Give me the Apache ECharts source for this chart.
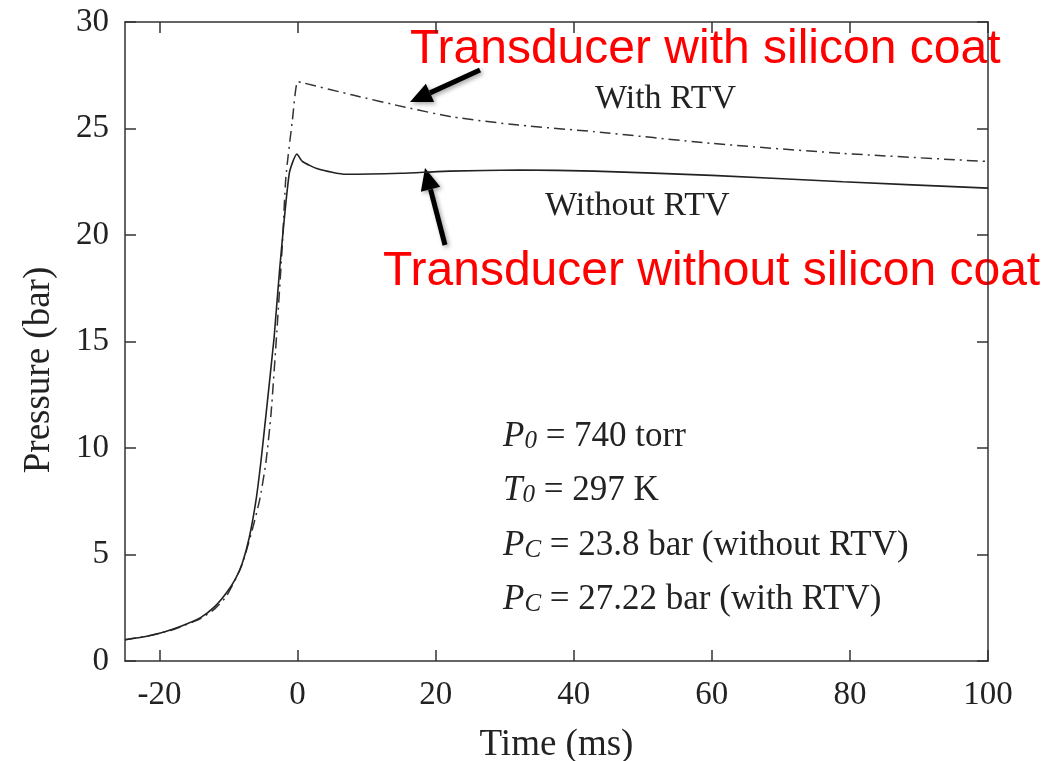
<!DOCTYPE html>
<html>
<head>
<meta charset="utf-8">
<script src="https://cdn.jsdelivr.net/npm/echarts@6/dist/echarts.min.js"></script>
<style>
  html, body { margin: 0; padding: 0; background: #fff; }
  #chart { width: 1055px; height: 761px; }
</style>
</head>
<body>
<div id="chart"></div>
<script>
// solid curve, transducer without RTV (silicon coat)
const timeWithout = [-25, -22, -20, -18, -16, -14, -12, -10.3, -9, -8, -7, -6, -5.3, -4.6, -3.4, -2.6, -1.2, -0.1, 0.7, 3, 7, 15, 22, 32, 43, 60, 79, 100];
const pressWithout = [1.0, 1.15, 1.3, 1.5, 1.75, 2.05, 2.55, 3.2, 3.85, 4.6, 5.8, 7.6, 9.4, 11.5, 15.2, 18.4, 22.9, 23.8, 23.45, 23.1, 22.85, 22.9, 23.0, 23.05, 23.0, 22.8, 22.5, 22.2];

// dash-dot curve, transducer with RTV
const timeWith = [-25, -22, -20, -18, -16, -14, -12, -10.3, -8.2, -6.7, -5.5, -4.6, -3.85, -3, -2.2, -1.7, -0.75, 0, 0.7, 8, 15.6, 22.3, 32, 43, 60, 79, 100];
const pressWith = [1.0, 1.15, 1.3, 1.48, 1.72, 2.0, 2.45, 3.05, 4.4, 6.0, 7.56, 9.3, 11.6, 15.5, 19.6, 22.7, 25.4, 27.2, 27.15, 26.57, 26.0, 25.55, 25.16, 24.85, 24.3, 23.83, 23.45];

const xTicks = [-20, 0, 20, 40, 60, 80, 100];

const serif = "Liberation Serif";

function pairs(xs, ys) {
  return xs.map((x, i) => [x, ys[i]]);
}

function arrow(x1, y1, x2, y2) {
  // black arrow with head at (x2, y2)
  const ang = Math.atan2(y2 - y1, x2 - x1);
  const len = 22, half = 10;
  const bx = x2 - len * Math.cos(ang), by = y2 - len * Math.sin(ang);
  const nx = -Math.sin(ang), ny = Math.cos(ang);
  return [
    {
      type: "polyline",
      shape: { points: [[x1, y1], [bx, by]] },
      style: { stroke: "#000", lineWidth: 5, shadowColor: "rgba(0,0,0,0.35)", shadowBlur: 4, shadowOffsetX: 2, shadowOffsetY: 2 },
    },
    {
      type: "polygon",
      shape: { points: [[x2, y2], [bx + nx * half, by + ny * half], [bx - nx * half, by - ny * half]] },
      style: { fill: "#000", shadowColor: "rgba(0,0,0,0.35)", shadowBlur: 4, shadowOffsetX: 2, shadowOffsetY: 2 },
    },
  ];
}

const rich = {
  i: { fontFamily: serif, fontStyle: "italic", fontSize: 35, lineHeight: 42, verticalAlign: "bottom", fill: "#222" },
  s: { fontFamily: serif, fontStyle: "italic", fontSize: 25, lineHeight: 16, verticalAlign: "bottom", fill: "#222" },
  n: { fontFamily: serif, fontSize: 35, lineHeight: 42, verticalAlign: "bottom", fill: "#222" },
};

function infoLine(top, txt) {
  return { type: "text", left: 503, top: top, style: { text: txt, rich: rich } };
}

const chart = echarts.init(document.getElementById("chart"));

const axisLine = { show: true, onZero: false, lineStyle: { color: "#333", width: 1.5 } };
const tickStyle = { color: "#333", width: 1.5 };

const option = {
  animation: false,
  backgroundColor: "#fff",
  grid: { left: 125, right: 67, top: 22, bottom: 100, outerBoundsMode: "none" },
  xAxis: [
    {
      type: "value",
      min: -25,
      max: 100,
      axisLine: axisLine,
      splitLine: { show: false },
      axisTick: { inside: true, length: 11, lineStyle: tickStyle, customValues: xTicks },
      axisLabel: { customValues: xTicks, fontFamily: serif, fontSize: 33, color: "#222", margin: 18 },
      name: "Time (ms)",
      nameLocation: "middle",
      nameGap: 66,
      nameTextStyle: { fontFamily: serif, fontSize: 37, color: "#222" },
    },
    {
      type: "value",
      position: "top",
      min: -25,
      max: 100,
      axisLine: axisLine,
      splitLine: { show: false },
      axisTick: { inside: true, length: 11, lineStyle: tickStyle, customValues: xTicks },
      axisLabel: { show: false },
    },
  ],
  yAxis: [
    {
      type: "value",
      min: 0,
      max: 30,
      interval: 5,
      axisLine: axisLine,
      splitLine: { show: false },
      axisTick: { inside: true, length: 11, lineStyle: tickStyle },
      axisLabel: { fontFamily: serif, fontSize: 33, color: "#222", margin: 16 },
    },
    {
      type: "value",
      position: "right",
      min: 0,
      max: 30,
      interval: 5,
      axisLine: axisLine,
      splitLine: { show: false },
      axisTick: { inside: true, length: 11, lineStyle: tickStyle },
      axisLabel: { show: false },
    },
  ],
  series: [
    {
      name: "With RTV",
      type: "line",
      showSymbol: false,
      smooth: 0.2,
      data: pairs(timeWith, pressWith),
      lineStyle: { color: "#333", width: 1.5, type: [11, 5, 2, 5] },
    },
    {
      name: "Without RTV",
      type: "line",
      showSymbol: false,
      smooth: 0.2,
      data: pairs(timeWithout, pressWithout),
      lineStyle: { color: "#222", width: 1.6 },
    },
  ],
  graphic: [
    {
      type: "text", x: 39, y: 370, rotation: Math.PI / 2,
      style: { text: "Pressure (bar)", font: "37px 'Liberation Serif'", fill: "#222", align: "center", verticalAlign: "middle" },
    },
    { type: "text", left: 595, top: 82, style: { text: "With RTV", font: "34px 'Liberation Serif'", fill: "#222" } },
    { type: "text", left: 545, top: 189, style: { text: "Without RTV", font: "34px 'Liberation Serif'", fill: "#222" } },
    { type: "text", left: 410, top: 26, style: { text: "Transducer with silicon coat", font: "48px 'Liberation Sans'", fill: "#ff0000" } },
    { type: "text", left: 383, top: 248, style: { text: "Transducer without silicon coat", font: "48px 'Liberation Sans'", fill: "#ff0000" } },
    ...arrow(480, 70, 410, 102),
    ...arrow(445, 245, 425, 168),
    infoLine(419, "{i|P}{s|0}{n| = 740 torr}"),
    infoLine(473, "{i|T}{s|0}{n| = 297 K}"),
    infoLine(528, "{i|P}{s|C}{n| = 23.8 bar (without RTV)}"),
    infoLine(582, "{i|P}{s|C}{n| = 27.22 bar (with RTV)}"),
  ],
};

chart.setOption(option);
</script>
</body>
</html>
